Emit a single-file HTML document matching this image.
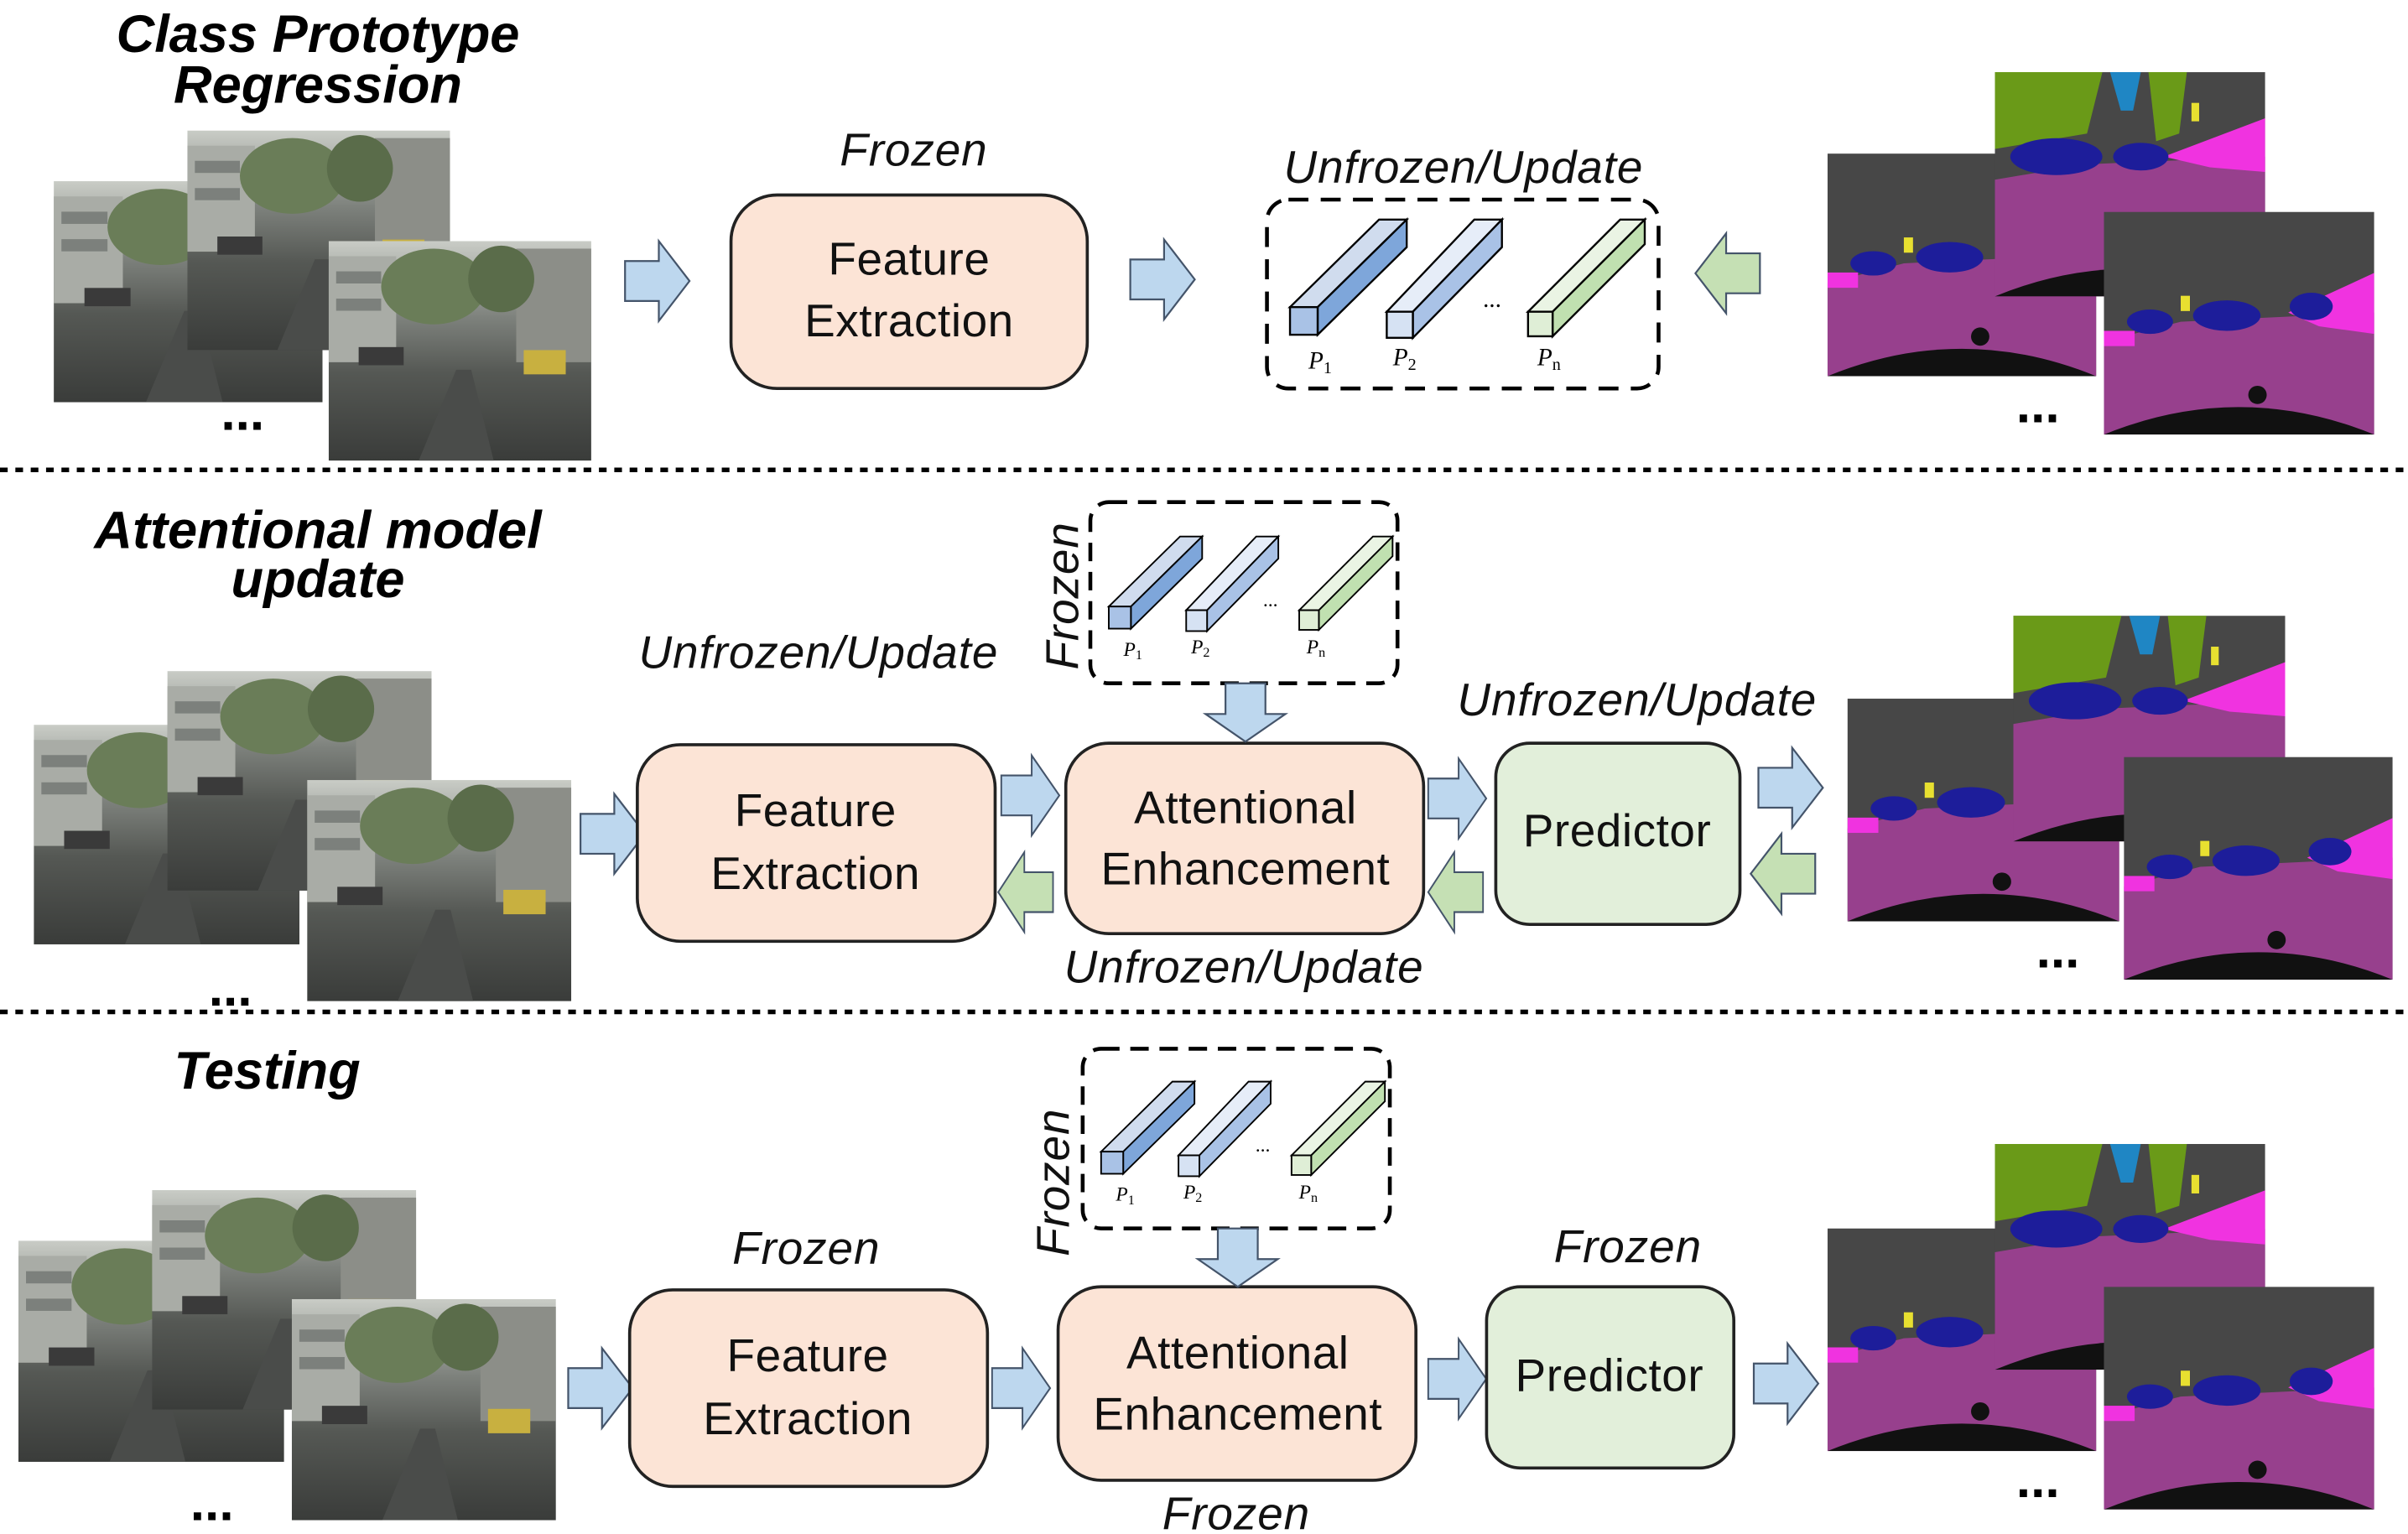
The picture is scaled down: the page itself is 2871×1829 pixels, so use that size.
<!DOCTYPE html>
<html><head><meta charset="utf-8"><style>
html,body{margin:0;padding:0;background:#fff;}
svg{display:block}
.lab{font-family:"Liberation Sans",sans-serif;font-style:italic;font-size:30px;letter-spacing:0.5px;fill:#111}
.ttl{font-family:"Liberation Sans",sans-serif;font-style:italic;font-weight:bold;font-size:34.5px;fill:#000}
.bx{font-family:"Liberation Sans",sans-serif;font-size:30px;letter-spacing:0.3px;fill:#111}
.p{font-family:"Liberation Serif",serif;font-style:italic;font-size:16px;fill:#000}
.dots{font-family:"Liberation Sans",sans-serif;font-weight:bold;font-size:34px;fill:#000}
</style></head><body>
<svg width="2871" height="1829" viewBox="0 0 1568 999" preserveAspectRatio="none" xmlns="http://www.w3.org/2000/svg">
<defs>
<linearGradient id="road" x1="0" y1="0" x2="0" y2="1"><stop offset="0" stop-color="#c9ccc6"/><stop offset="0.35" stop-color="#7d817c"/><stop offset="0.6" stop-color="#555854"/><stop offset="1" stop-color="#3a3c3a"/></linearGradient>
<symbol id="ph" viewBox="0 0 175 145" preserveAspectRatio="none">
<rect width="175" height="145" fill="url(#road)"/>
<rect x="0" y="10" width="45" height="70" fill="#a9aca6"/><rect x="5" y="20" width="30" height="8" fill="#7c807c"/><rect x="5" y="38" width="30" height="8" fill="#7c807c"/>
<rect x="125" y="5" width="50" height="75" fill="#8c8e88"/>
<ellipse cx="70" cy="30" rx="35" ry="25" fill="#6a7d58"/><ellipse cx="115" cy="25" rx="22" ry="22" fill="#5a6c4a"/>
<rect x="20" y="70" width="30" height="12" fill="#3a3a3a"/><rect x="130" y="72" width="28" height="16" fill="#c8b040"/>
<polygon points="60,145 85,85 95,85 110,145" fill="#4a4c4a"/>
</symbol>
<symbol id="sg" viewBox="0 0 176 146" preserveAspectRatio="none">
<rect width="176" height="146" fill="#474747"/>
<polygon points="0,85 50,72 176,66 176,146 0,146" fill="#97408d"/>
<polygon points="120,66 176,40 176,80 140,75" fill="#f033e0"/>
<rect x="0" y="78" width="20" height="10" fill="#f033e0"/>
<ellipse cx="30" cy="72" rx="15" ry="8" fill="#1d1d9a"/><ellipse cx="80" cy="68" rx="22" ry="10" fill="#1d1d9a"/><ellipse cx="135" cy="62" rx="14" ry="9" fill="#1d1d9a"/>
<rect x="50" y="55" width="6" height="10" fill="#e8e030"/>
<path d="M0,146 Q88,110 176,146 Z" fill="#111"/><circle cx="100" cy="120" r="6" fill="#111"/>
</symbol>
<symbol id="sg2" viewBox="0 0 176 146" preserveAspectRatio="none">
<rect width="176" height="146" fill="#474747"/>
<polygon points="0,0 70,0 60,40 0,50" fill="#6a9a18"/>
<polygon points="75,0 95,0 90,25 82,25" fill="#1f86c4"/>
<polygon points="100,0 125,0 120,40 105,45" fill="#6a9a18"/>
<polygon points="0,70 60,60 176,55 176,146 0,146" fill="#97408d"/>
<polygon points="110,55 176,30 176,65 140,62" fill="#f033e0"/>
<ellipse cx="40" cy="55" rx="30" ry="12" fill="#1d1d9a"/><ellipse cx="95" cy="55" rx="18" ry="9" fill="#1d1d9a"/>
<rect x="128" y="20" width="5" height="12" fill="#e8e030"/>
<path d="M0,146 Q88,110 176,146 Z" fill="#111"/><circle cx="100" cy="120" r="6" fill="#111"/>
</symbol>
<g id="ar"><polygon points="0,13 22,13 22,0 42,26 22,52 22,39 0,39" fill="#bdd7ee" stroke="#44546a" stroke-width="1.2"/></g>
<g id="al"><polygon points="42,13 20,13 20,0 0,26 20,52 20,39 42,39" fill="#c5e0b4" stroke="#44546a" stroke-width="1.2"/></g>
<g id="ad"><polygon points="13,0 13,20 0,20 26,38 52,20 39,20 39,0" fill="#bdd7ee" stroke="#44546a" stroke-width="1.2"/></g>
<g id="bars" stroke="#000" stroke-width="1.3">
<polygon points="15,70 73,13 91,13 33,70" fill="#d0dcee"/><polygon points="33,70 91,13 91,31 33,88" fill="#7ea6da"/><rect x="15" y="70" width="18" height="18" fill="#a9c2e6"/>
<polygon points="78,73 135,13 153,13 95,73" fill="#e6edf8"/><polygon points="95,73 153,13 153,31 95,90" fill="#a9c2e6"/><rect x="78" y="73" width="17" height="17" fill="#d6e2f3"/>
<polygon points="170,73 230,13 246,13 186,73" fill="#eaf4e4"/><polygon points="186,73 246,13 246,29 186,89" fill="#c0e0b0"/><rect x="170" y="73" width="16" height="16" fill="#dfeed6"/>
<text x="141" y="70" class="p" stroke="none">...</text>
<text x="27" y="110" class="p" stroke="none">P<tspan font-size="11" dy="3" font-style="normal">1</tspan></text>
<text x="82" y="108" class="p" stroke="none">P<tspan font-size="11" dy="3" font-style="normal">2</tspan></text>
<text x="176" y="108" class="p" stroke="none">P<tspan font-size="11" dy="3" font-style="normal">n</tspan></text>
</g>
</defs>

<!-- Row 1 -->
<text x="207" y="34" class="ttl" text-anchor="middle">Class Prototype</text>
<text x="207" y="67" class="ttl" text-anchor="middle">Regression</text>
<use href="#ph" x="35" y="118" width="175" height="144"/>
<use href="#ph" x="122" y="85" width="171" height="143"/>
<use href="#ph" x="214" y="157" width="171" height="143"/>
<text x="158" y="280" class="dots" text-anchor="middle">...</text>
<use href="#ar" transform="translate(407,157)"/>
<text x="595" y="108" class="lab" text-anchor="middle">Frozen</text>
<rect x="476" y="127" width="232" height="126" rx="30" fill="#fce4d6" stroke="#222" stroke-width="2"/>
<text x="592" y="179" class="bx" text-anchor="middle">Feature</text>
<text x="592" y="219" class="bx" text-anchor="middle">Extraction</text>
<use href="#ar" transform="translate(736,156)"/>
<text x="953" y="119" class="lab" text-anchor="middle">Unfrozen/Update</text>
<rect x="825" y="130" width="255" height="123" rx="14" fill="none" stroke="#000" stroke-width="2.5" stroke-dasharray="13,8"/>
<use href="#bars" transform="translate(825,130)"/>
<use href="#al" transform="translate(1104,152)"/>
<use href="#sg" x="1190" y="100" width="175" height="145"/>
<use href="#sg2" x="1299" y="47" width="176" height="146"/>
<use href="#sg" x="1370" y="138" width="176" height="145"/>
<text x="1327" y="275" class="dots" text-anchor="middle">...</text>

<line x1="0" y1="306" x2="1568" y2="306" stroke="#000" stroke-width="3" stroke-dasharray="5,5"/>

<!-- Row 2 -->
<text x="207" y="357" class="ttl" text-anchor="middle">Attentional model</text>
<text x="207" y="389" class="ttl" text-anchor="middle">update</text>
<use href="#ph" x="22" y="472" width="173" height="143"/>
<use href="#ph" x="109" y="437" width="172" height="143"/>
<use href="#ph" x="200" y="508" width="172" height="144"/>
<text x="150" y="655" class="dots" text-anchor="middle">...</text>
<use href="#ar" transform="translate(378,517)"/>
<text x="533" y="435" class="lab" text-anchor="middle">Unfrozen/Update</text>
<rect x="415" y="485" width="233" height="128" rx="28" fill="#fce4d6" stroke="#222" stroke-width="2"/>
<text x="531" y="538" class="bx" text-anchor="middle">Feature</text>
<text x="531" y="579" class="bx" text-anchor="middle">Extraction</text>
<use href="#ar" transform="translate(652,492) scale(0.9,1)"/>
<use href="#al" transform="translate(650,555) scale(0.85,1)"/>
<rect x="694" y="484" width="233" height="124" rx="28" fill="#fce4d6" stroke="#222" stroke-width="2"/>
<text x="811" y="536" class="bx" text-anchor="middle">Attentional</text>
<text x="811" y="576" class="bx" text-anchor="middle">Enhancement</text>
<rect x="710" y="327" width="200" height="118" rx="12" fill="none" stroke="#000" stroke-width="2.5" stroke-dasharray="12,7"/>
<use href="#bars" transform="translate(710,339) scale(0.8)"/>
<text transform="translate(702,388) rotate(-90)" class="lab" text-anchor="middle">Frozen</text>
<use href="#ad" transform="translate(785,445)"/>
<use href="#ar" transform="translate(930,494) scale(0.9,1)"/>
<use href="#al" transform="translate(930,555) scale(0.85,1)"/>
<text x="1066" y="466" class="lab" text-anchor="middle">Unfrozen/Update</text>
<rect x="974" y="484" width="159" height="118" rx="22" fill="#e2efda" stroke="#222" stroke-width="2"/>
<text x="1053" y="551" class="bx" text-anchor="middle">Predictor</text>
<use href="#ar" transform="translate(1145,487)"/>
<use href="#al" transform="translate(1140,543)"/>
<text x="810" y="640" class="lab" text-anchor="middle">Unfrozen/Update</text>
<use href="#sg" x="1203" y="455" width="177" height="145"/>
<use href="#sg2" x="1311" y="401" width="177" height="147"/>
<use href="#sg" x="1383" y="493" width="175" height="145"/>
<text x="1340" y="630" class="dots" text-anchor="middle">...</text>

<line x1="0" y1="659" x2="1568" y2="659" stroke="#000" stroke-width="3" stroke-dasharray="5,5"/>

<!-- Row 3 -->
<text x="174" y="709" class="ttl" text-anchor="middle">Testing</text>
<use href="#ph" x="12" y="808" width="173" height="144"/>
<use href="#ph" x="99" y="775" width="172" height="143"/>
<use href="#ph" x="190" y="846" width="172" height="144"/>
<text x="138" y="990" class="dots" text-anchor="middle">...</text>
<use href="#ar" transform="translate(370,878)"/>
<text x="525" y="823" class="lab" text-anchor="middle">Frozen</text>
<rect x="410" y="840" width="233" height="128" rx="28" fill="#fce4d6" stroke="#222" stroke-width="2"/>
<text x="526" y="893" class="bx" text-anchor="middle">Feature</text>
<text x="526" y="934" class="bx" text-anchor="middle">Extraction</text>
<use href="#ar" transform="translate(646,878) scale(0.9,1)"/>
<rect x="689" y="838" width="233" height="126" rx="28" fill="#fce4d6" stroke="#222" stroke-width="2"/>
<text x="806" y="891" class="bx" text-anchor="middle">Attentional</text>
<text x="806" y="931" class="bx" text-anchor="middle">Enhancement</text>
<rect x="705" y="683" width="200" height="117" rx="12" fill="none" stroke="#000" stroke-width="2.5" stroke-dasharray="12,7"/>
<use href="#bars" transform="translate(705,694) scale(0.8)"/>
<text transform="translate(696,770) rotate(-90)" class="lab" text-anchor="middle">Frozen</text>
<use href="#ad" transform="translate(780,800)"/>
<use href="#ar" transform="translate(930,872) scale(0.9,1)"/>
<text x="1060" y="822" class="lab" text-anchor="middle">Frozen</text>
<rect x="968" y="838" width="161" height="118" rx="22" fill="#e2efda" stroke="#222" stroke-width="2"/>
<text x="1048" y="906" class="bx" text-anchor="middle">Predictor</text>
<use href="#ar" transform="translate(1142,875)"/>
<text x="805" y="996" class="lab" text-anchor="middle">Frozen</text>
<use href="#sg" x="1190" y="800" width="175" height="145"/>
<use href="#sg2" x="1299" y="745" width="176" height="147"/>
<use href="#sg" x="1370" y="838" width="176" height="145"/>
<text x="1327" y="975" class="dots" text-anchor="middle">...</text>
</svg>
</body></html>
